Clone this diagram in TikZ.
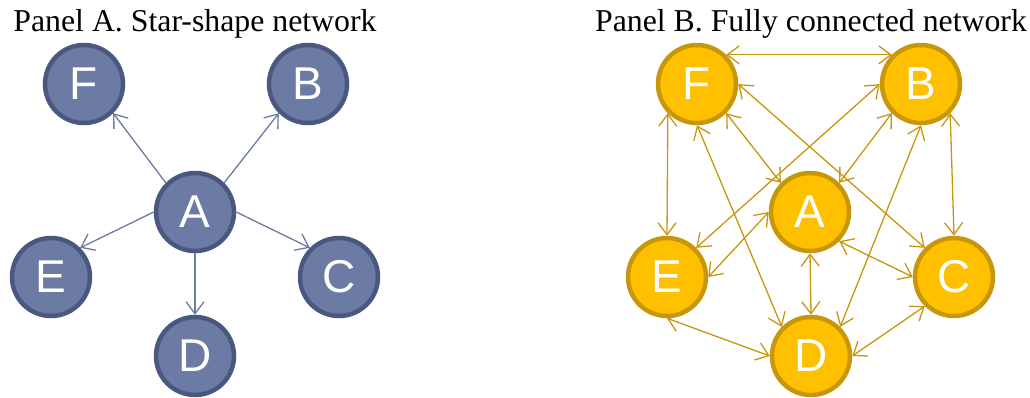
\documentclass[tikz,border=0pt]{standalone}
\usepackage{fontspec}
\setmainfont{Liberation Serif}
\newfontfamily\labelfont{Liberation Sans}
\usetikzlibrary{arrows.meta}
\definecolor{blfill}{HTML}{6B7BA4}
\definecolor{bldraw}{HTML}{4A5780}
\definecolor{gdfill}{HTML}{FFC000}
\definecolor{gddraw}{HTML}{C8960A}
\definecolor{gdline}{HTML}{C8960C}
\tikzset{
  bnode/.style={circle, fill=blfill, draw=bldraw, line width=4.5pt, minimum size=78pt, inner sep=0pt,
    text=white, font=\labelfont\fontsize{46}{46}\selectfont},
  gnode/.style={circle, fill=gdfill, draw=gddraw, line width=4.5pt, minimum size=78pt, inner sep=0pt,
    text=white, font=\labelfont\fontsize{46}{46}\selectfont},
  barb/.tip={Straight Barb[length=12pt,width=18pt,line width=1.3pt]},
  barrow/.style={draw=blfill, line width=1.3pt, -barb},
  garrow/.style={draw=gdline, line width=1.3pt, barb-barb},
  title/.style={font=\fontsize{31.8}{32}\selectfont, anchor=base}
}
\begin{document}
\begin{tikzpicture}[x=1pt,y=-1pt]
\useasboundingbox (0,0) rectangle (1030,397);
% Panel A
\node[title] (ta) at (195,31) {Panel A. Star-shape network};
\node[bnode] (aF) at (84,84) {F};
\node[bnode] (aB) at (308,84) {B};
\node[bnode] (aA) at (195,212) {A};
\node[bnode] (aE) at (51,277) {E};
\node[bnode] (aC) at (339,277) {C};
\node[bnode] (aD) at (195,356) {D};
\draw[barrow] (aA.north west) -- (aF.south east);
\draw[barrow] (aA.north east) -- (aB.south west);
\draw[barrow] (aA.west) -- (aE.north east);
\draw[barrow] (aA.east) -- (aC.north west);
\draw[barrow] (aA.south) -- (aD.north);
% Panel B
\node[title] (tb) at (811,31) {Panel B. Fully connected network};
\node[gnode] (bF) at (697,84) {F};
\node[gnode] (bB) at (921,84) {B};
\node[gnode] (bA) at (810,212) {A};
\node[gnode] (bE) at (667,277) {E};
\node[gnode] (bC) at (954,277) {C};
\node[gnode] (bD) at (811,356) {D};
\draw[garrow] (bF.north east) -- (bB.north west);
\draw[garrow] (bF.south west) -- (bE.north);
\draw[garrow] (bB.south east) -- (bC.north);
\draw[garrow] (bF.east) -- (bC.north west);
\draw[garrow] (bF.south east) -- (bA.north west);
\draw[garrow] (bF.south) -- (bD.north west);
\draw[garrow] (bB.west) -- (bE.north east);
\draw[garrow] (bB.south west) -- (bA.north east);
\draw[garrow] (bB.south) -- (bD.north east);
\draw[garrow] (bA.west) -- (bE.east);
\draw[garrow] (bA.south) -- (bD.north);
\draw[garrow] (bA.south east) -- (bC.west);
\draw[garrow] (bE.south) -- (bD.west);
\draw[garrow] (bD.east) -- (bC.south west);
\end{tikzpicture}
\end{document}
